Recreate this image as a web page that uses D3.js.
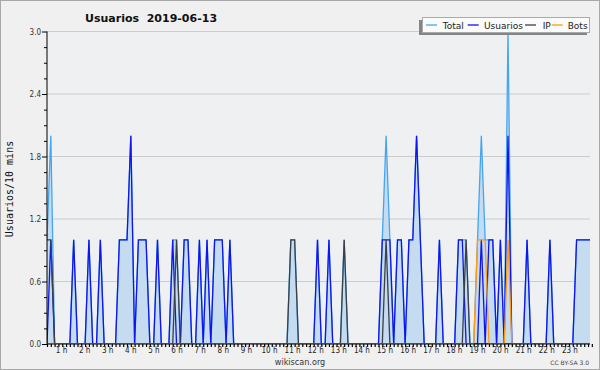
<!DOCTYPE html>
<html><head><meta charset="utf-8">
<script src="https://cdn.jsdelivr.net/npm/d3@7"></script>
<style>html,body{margin:0;padding:0;background:#f0f0f0}svg{display:block}</style>
</head><body><svg id="c" width="600" height="370"></svg>
<script>
const chartTitle = "Usuarios  2019-06-13";
const yTitle = "Usuarios/10 mins";
const footer = "wikiscan.org";
const license = "CC BY-SA 3.0";
const hourLabels = ["1 h","2 h","3 h","4 h","5 h","6 h","7 h","8 h","9 h","10 h","11 h","12 h","13 h","14 h","15 h","16 h","17 h","18 h","19 h","20 h","21 h","22 h","23 h"];
const hourValues = [1,2,3,4,5,6,7,8,9,10,11,12,13,14,15,16,17,18,19,20,21,22,23];
const yTickValues = [0, 0.6, 1.2, 1.8, 2.4, 3.0];
const seriesNames = ["Total","Usuarios","IP","Bots"];
const seriesColors = ["#45a5f0","#0f14f0","#3a3f48","#ff9a10"];

// one value per 10-minute slot (144 slots)
const total = [
 1,2,0,0,0,0,0,1,0,0,0,1,
 0,0,1,0,0,0,0,1,1,1,2,0,
 1,1,1,0,0,1,0,0,0,1,1,0,
 1,1,0,0,1,0,1,0,1,1,1,0,
 1,0,0,0,0,0,0,0,0,0,0,0,
 0,0,0,0,1,1,0,0,0,0,0,1,
 0,0,1,0,0,0,1,0,0,0,0,0,
 0,0,0,0,1,2,1,0,1,1,0,1,
 1,2,1,0,0,0,0,1,0,0,0,0,
 1,1,1,0,0,1,2,1,1,1,0,1,
 0,3,0,0,0,0,1,0,0,0,0,0,
 1,0,0,0,0,0,0,1,1,1,1,1];
const usuarios = [
 0,1,0,0,0,0,0,1,0,0,0,1,
 0,0,1,0,0,0,0,1,1,1,2,0,
 1,1,1,0,0,1,0,0,0,1,0,0,
 1,1,0,0,1,0,1,0,1,1,1,0,
 1,0,0,0,0,0,0,0,0,0,0,0,
 0,0,0,0,0,0,0,0,0,0,0,1,
 0,0,1,0,0,0,0,0,0,0,0,0,
 0,0,0,0,1,1,1,0,1,1,0,1,
 1,2,1,0,0,0,0,1,0,0,0,0,
 1,1,0,0,0,0,1,0,1,1,0,1,
 0,2,0,0,0,0,1,0,0,0,0,0,
 1,0,0,0,0,0,0,1,1,1,1,1];
const ip = [
 1,1,0,0,0,0,0,0,0,0,0,0,
 0,0,0,0,0,0,0,0,0,0,0,0,
 0,0,0,0,0,0,0,0,0,0,1,0,
 0,0,0,0,0,0,0,0,0,0,0,0,
 0,0,0,0,0,0,0,0,0,0,0,0,
 0,0,0,0,1,1,0,0,0,0,0,0,
 0,0,0,0,0,0,1,0,0,0,0,0,
 0,0,0,0,0,1,0,0,0,0,0,0,
 0,0,0,0,0,0,0,0,0,0,0,0,
 0,0,1,0,0,0,0,0,0,0,0,0,
 0,0,0,0,0,0,0,0,0,0,0,0,
 0,0,0,0,0,0,0,0,0,0,0,0];
const bots = [
 0,0,0,0,0,0,0,0,0,0,0,0,
 0,0,0,0,0,0,0,0,0,0,0,0,
 0,0,0,0,0,0,0,0,0,0,0,0,
 0,0,0,0,0,0,0,0,0,0,0,0,
 0,0,0,0,0,0,0,0,0,0,0,0,
 0,0,0,0,0,0,0,0,0,0,0,0,
 0,0,0,0,0,0,0,0,0,0,0,0,
 0,0,0,0,0,0,0,0,0,0,0,0,
 0,0,0,0,0,0,0,0,0,0,0,0,
 0,0,0,0,0,1,1,1,0,0,0,0,
 0,1,0,0,0,0,0,0,0,0,0,0,
 0,0,0,0,0,0,0,0,0,0,0,0];

const svg = d3.select("#c");
const W = 600, H = 370;
const plot = {left: 47, right: 590, top: 31.5, bottom: 344};

svg.append("rect").attr("x",0.5).attr("y",0.5).attr("width",W-1).attr("height",H-1)
  .attr("fill","#f0f0f0").attr("stroke","#a8a8a8");
svg.append("rect").attr("x",plot.left).attr("y",plot.top).attr("width",plot.right-plot.left)
  .attr("height",plot.bottom-plot.top).attr("fill","#eef0f2");

const x = d3.scaleLinear().domain([0,143]).range([plot.left, plot.left + 143*3.81]);
const y = d3.scaleLinear().domain([0,3]).range([plot.bottom, plot.top]);
const xLab = d3.scaleLinear().domain([0,24]).range([38.4, 593.0]);

svg.append("defs").append("clipPath").attr("id","clip").append("rect")
  .attr("x",plot.left).attr("y",plot.top-2).attr("width",plot.right-plot.left).attr("height",plot.bottom-plot.top+2);

// grid
svg.append("g").selectAll("line").data(yTickValues.filter(d=>d>0)).join("line")
  .attr("x1",plot.left).attr("x2",plot.right)
  .attr("y1",d=>y(d)).attr("y2",d=>y(d))
  .attr("stroke","#cccccc").attr("stroke-width",1);

const g = svg.append("g").attr("clip-path","url(#clip)");
const area = d3.area().x((d,i)=>x(i)).y0(y(0)).y1(d=>y(d));
g.append("path").datum(total).attr("d",area).attr("fill","#c4dbf0");
const line = d3.line().x((d,i)=>x(i)).y(d=>y(d));
const data = [total, usuarios, ip, bots];
data.forEach((s,k)=>{
  g.append("path").datum(s).attr("d",line).attr("fill","none")
   .attr("stroke",seriesColors[k]).attr("stroke-width",1.3).attr("stroke-linejoin","miter");
});

// y axis
const yAxis = d3.axisLeft(y).tickValues(d3.range(0,3.0001,0.15)).tickSize(3)
  .tickFormat(d => { const r = Math.round(d/0.15); return r%4===0 ? d3.format(".1f")(d) : ""; });
const ya = svg.append("g").attr("transform",`translate(${plot.left},0)`).call(yAxis);
ya.select(".domain").attr("stroke","#000").attr("d",`M0,${plot.top}V${plot.bottom}`);
ya.selectAll(".tick line").attr("stroke","#000").attr("x2",(d)=> Math.round(d/0.15)%4===0 ? -5 : -3);
ya.selectAll(".tick text").attr("x",-6).attr("dy","0.34em")
  .style("font-family","'DejaVu Sans Condensed','DejaVu Sans',sans-serif").style("font-stretch","condensed")
  .style("font-size","8px").attr("fill","#333");

// x axis
const xAxis = d3.axisBottom(x).tickValues(d3.range(0,144)).tickSize(3).tickFormat("");
const xa = svg.append("g").attr("transform",`translate(0,${plot.bottom})`).call(xAxis);
xa.select(".domain").attr("stroke","#000").attr("d",`M${plot.left},0H${plot.right}`);
xa.selectAll(".tick line").attr("stroke","#000").attr("stroke-width",1.2);

svg.append("g").selectAll("text").data(hourValues).join("text")
  .attr("x",d=>xLab(d)).attr("y",353).attr("text-anchor","middle")
  .style("font-family","'DejaVu Sans Condensed','DejaVu Sans',sans-serif").style("font-stretch","condensed")
  .style("font-size","8px").attr("fill","#222").text((d,i)=>hourLabels[i]);

// titles
svg.append("text").attr("x",85).attr("y",22).style("font-family","'DejaVu Sans',sans-serif")
  .style("font-weight","bold").style("font-size","11px").style("white-space","pre").attr("fill","#111").text(chartTitle);
svg.append("text").attr("transform","translate(13,189) rotate(-90)").attr("text-anchor","middle")
  .style("font-family","'DejaVu Sans Mono',monospace").style("font-size","10px").attr("fill","#111").text(yTitle);
svg.append("text").attr("x",300).attr("y",365).attr("text-anchor","middle")
  .style("font-family","'DejaVu Sans Condensed','DejaVu Sans',sans-serif").style("font-stretch","condensed")
  .style("font-size","9px").attr("fill","#333").text(footer);
svg.append("text").attr("x",589).attr("y",365).attr("text-anchor","end")
  .style("font-family","'DejaVu Sans',sans-serif").style("font-size","6px").attr("fill","#444").text(license);

// legend
const lg = svg.append("g");
lg.append("rect").attr("x",419).attr("y",20).attr("width",168).attr("height",15).attr("fill","#858585");
lg.append("rect").attr("x",422.5).attr("y",17.5).attr("width",167).attr("height",15).attr("fill","#fbfbfb").attr("stroke","#aaa");
const lineStarts = [426, 467.7, 525, 551.7];
const textStarts = [442.7, 484, 542.7, 567.7];
seriesNames.forEach((n,k)=>{
  lg.append("line").attr("x1",lineStarts[k]).attr("x2",lineStarts[k]+11).attr("y1",25).attr("y2",25)
    .attr("stroke",seriesColors[k]).attr("stroke-width",1.3);
  lg.append("text").attr("x",textStarts[k]).attr("y",28.5).style("font-family","'DejaVu Sans',sans-serif")
    .style("font-size","9px").attr("fill","#222").text(n);
});
</script></body></html>
